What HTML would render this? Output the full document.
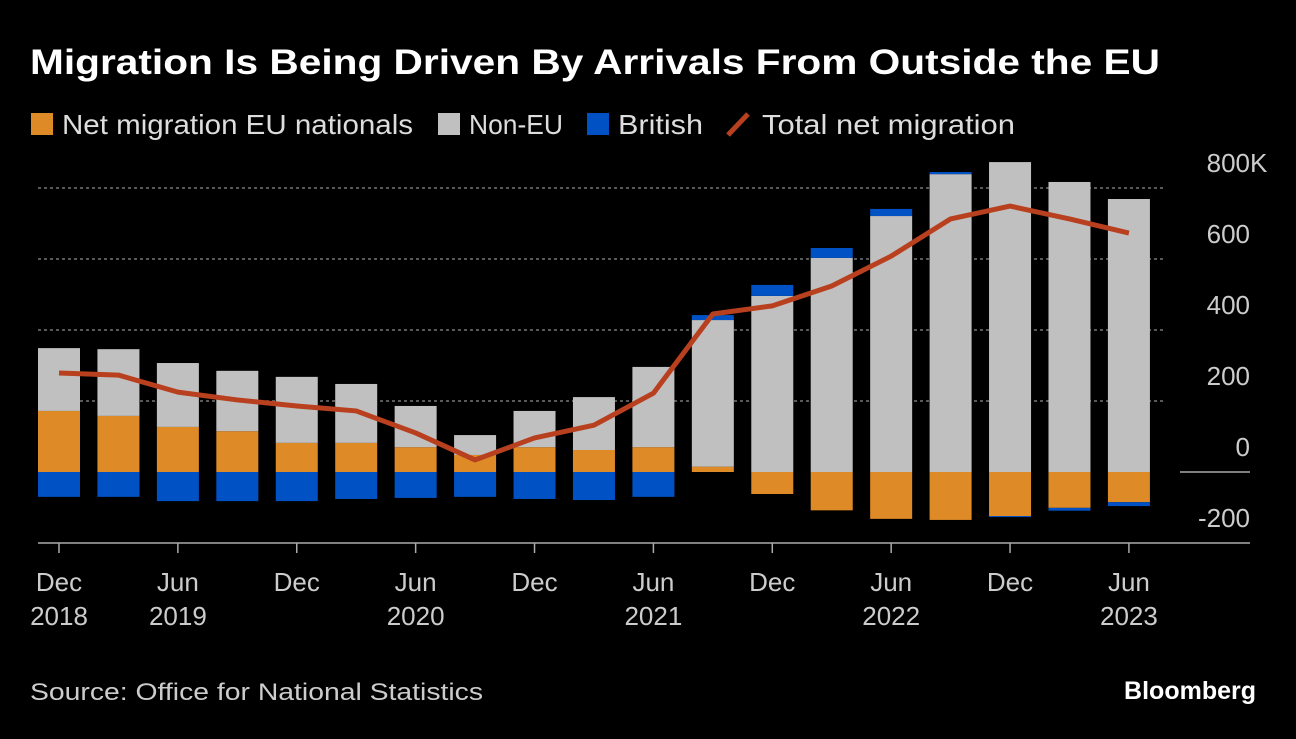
<!DOCTYPE html>
<html><head><meta charset="utf-8"><style>
body{margin:0;background:#000;width:1296px;height:734px;overflow:hidden;font-family:"Liberation Sans",sans-serif;color:#fff}
</style></head><body>
<svg width="1296" height="734" xmlns="http://www.w3.org/2000/svg">
<text x="30" y="74" font-size="35" font-weight="bold" fill="#fff" textLength="1130" lengthAdjust="spacingAndGlyphs">Migration Is Being Driven By Arrivals From Outside the EU</text>
<g font-size="28" fill="#ddd">
<rect x="31" y="113" width="22" height="22" fill="#dd8a27"/>
<text x="62" y="134" textLength="351" lengthAdjust="spacingAndGlyphs">Net migration EU nationals</text>
<rect x="438" y="113" width="22" height="22" fill="#c0c0c0"/>
<text x="469" y="134" textLength="94" lengthAdjust="spacingAndGlyphs">Non-EU</text>
<rect x="587" y="113" width="22" height="22" fill="#0052c4"/>
<text x="618" y="134" textLength="85" lengthAdjust="spacingAndGlyphs">British</text>
<line x1="728" y1="135" x2="748" y2="114" stroke="#b8401e" stroke-width="5"/>
<text x="762" y="134" textLength="253" lengthAdjust="spacingAndGlyphs">Total net migration</text>
</g>
<g id="plot"></g>
<text x="30" y="700" font-size="24" fill="#ccc" textLength="453" lengthAdjust="spacingAndGlyphs">Source: Office for National Statistics</text>
<text x="1256" y="699" font-size="25" font-weight="bold" fill="#fff" text-anchor="end">Bloomberg</text>
</svg>
<script>
const eu=[172,158,127,115,82,82,70,48,70,62,70,15,-62,-108,-132,-135,-124,-101,-85];
const nonEu=[177,188,180,170,186,166,116,56,102,149,226,413,496,603,721,839,873,817,769];
const british=[-70,-70,-82,-82,-82,-76,-73,-70,-76,-79,-70,14,31,28,20,6,-3,-8,-11];
const total=[279,273,225,203,186,172,110,34,96,132,222,445,468,524,608,713,749,713,673];
const yTicks=[800,600,400,200,0,-200];
const yTickLabels=["800","600","400","200","0","-200"];
const xLabels=[[0,"Dec","2018"],[2,"Jun","2019"],[4,"Dec",""],[6,"Jun","2020"],[8,"Dec",""],[10,"Jun","2021"],[12,"Dec",""],[14,"Jun","2022"],[16,"Dec",""],[18,"Jun","2023"]];
const NS="http://www.w3.org/2000/svg";
const g=document.getElementById('plot');
const y=v=>472-v*0.355;
const x=i=>59+i*59.44;
const bw=42;
function el(t,a){const e=document.createElementNS(NS,t);for(const k in a)e.setAttribute(k,a[k]);g.appendChild(e);return e;}
yTicks.forEach((t,i)=>{
  if(t!==0&&t!==-200){const l=el('line',{x1:38,x2:1165,y1:y(t),y2:y(t),stroke:'#777','stroke-width':1.5,'stroke-dasharray':'3,3'});
  
  }
  const tx=el('text',{x:1250,y:y(t)-16,'font-size':26,fill:'#ccc','text-anchor':'end'});tx.textContent=yTickLabels[i];
  
  
});
const kk=el('text',{x:1250,y:y(800)-16,'font-size':26,fill:'#ccc'});kk.textContent='K';


const z=el('line',{x1:1180,x2:1250,y1:y(0),y2:y(0),stroke:'#aaa','stroke-width':1.5});


function seg(i,a,b,c,n){const r=el('rect',{x:x(i)-bw/2,y:y(Math.max(a,b)),width:bw,height:Math.abs(y(a)-y(b)),fill:c});

}
eu.forEach((e,i)=>{
  let pos=0,neg=0;
  const parts=[[eu[i],'#dd8a27','bar-eu'],[nonEu[i],'#c0c0c0','bar-non-eu'],[british[i],'#0052c4','bar-british']];
  parts.forEach(([v,c,n])=>{if(v>=0){seg(i,pos,pos+v,c,n);pos+=v;}else{seg(i,neg,neg+v,c,n);neg+=v;}});
});
const p=el('polyline',{points:total.map((v,i)=>x(i)+','+y(v)).join(' '),fill:'none',stroke:'#b8401e','stroke-width':5,'stroke-linejoin':'round'});


const ax=el('line',{x1:38,x2:1250,y1:543,y2:543,stroke:'#aaa','stroke-width':1.5});


xLabels.forEach(([i,a,b])=>{
  const tk=el('line',{x1:x(i),x2:x(i),y1:543,y2:553,stroke:'#aaa','stroke-width':1.5});
  
  
  const t1=el('text',{x:x(i),y:591,'font-size':26,fill:'#ccc','text-anchor':'middle'});t1.textContent=a;
  
  
  if(b){const t2=el('text',{x:x(i),y:625,'font-size':26,fill:'#ccc','text-anchor':'middle'});t2.textContent=b;
  
  }
});
</script>
</body></html>
